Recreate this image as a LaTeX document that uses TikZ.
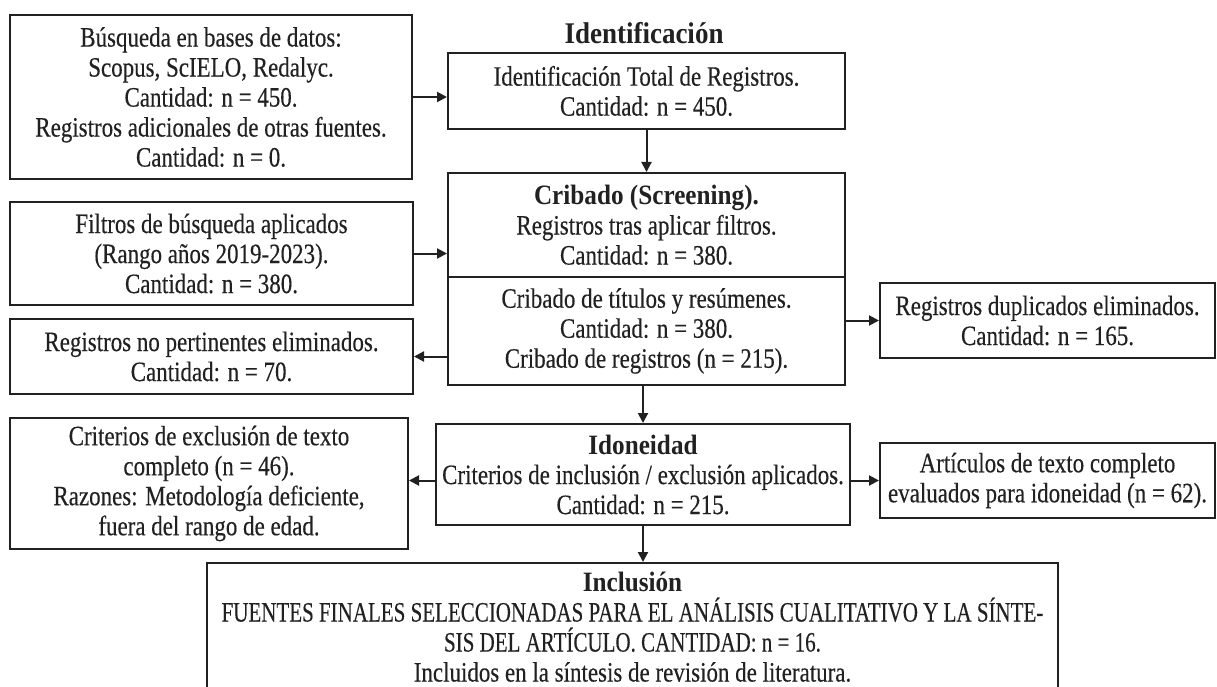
\documentclass[tikz,border=0pt]{standalone}
\usepackage{fontspec}
\setmainfont{Liberation Serif}[FakeStretch=0.82,FakeBold=0.3]
\newfontfamily\headfont{Liberation Serif}[FakeStretch=0.9]
\newfontfamily\capsfont{Liberation Serif}[FakeStretch=0.75,FakeBold=0.3]
\usetikzlibrary{arrows.meta}
\definecolor{ink}{gray}{0.13}
\newcommand\hd[1]{{\headfont\bfseries #1}}
\begin{document}
\begin{tikzpicture}[x=1pt,y=-1pt,
  box/.style={draw=ink,line width=2pt,align=center,inner sep=2pt,text=ink,font=\fontsize{28}{30}\selectfont},
  arr/.style={draw=ink,line width=2pt,-{Triangle[length=10pt,width=10pt]}}]
\useasboundingbox (0,0) rectangle (1217,687);
\node[text=ink,font=\fontsize{30}{30}\selectfont\headfont\bfseries] (ident) at (644,33) {Identificación};
\node[box,minimum width=402pt,minimum height=164pt] (busq) at (211,97) {Búsqueda en bases de datos:\\ Scopus, ScIELO, Redalyc.\\ Cantidad: n = 450.\\ Registros adicionales de otras fuentes.\\ Cantidad: n = 0.};
\node[box,minimum width=397pt,minimum height=76pt] (totreg) at (646.5,91) {Identificación Total de Registros.\\ Cantidad: n = 450.};
\node[box,minimum width=397pt,minimum height=104pt] (cribA) at (646.5,225) {\hd{Cribado (Screening).}\\ Registros tras aplicar filtros.\\ Cantidad: n = 380.};
\node[box,minimum width=397pt,minimum height=108pt] (cribB) at (646.5,331) {Cribado de títulos y resúmenes.\\ Cantidad: n = 380.\\ Cribado de registros (n = 215).};
\node[box,minimum width=403pt,minimum height=103pt] (filtros) at (211.5,253.5) {Filtros de búsqueda aplicados\\ (Rango años 2019-2023).\\ Cantidad: n = 380.};
\node[box,minimum width=403pt,minimum height=75pt] (noPert) at (211.5,356.5) {Registros no pertinentes eliminados.\\ Cantidad: n = 70.};
\node[box,minimum width=335pt,minimum height=75pt] (dupl) at (1047.5,320.5) {Registros duplicados eliminados.\\ Cantidad: n = 165.};
\node[box,minimum width=414pt,minimum height=101pt] (idon) at (643,474.5) {\hd{Idoneidad}\\ Criterios de inclusión / exclusión aplicados.\\ Cantidad: n = 215.};
\node[box,minimum width=398pt,minimum height=131pt] (exclus) at (209,483.5) {Criterios de exclusión de texto\\ completo (n = 46).\\ Razones: Metodología deficiente,\\ fuera del rango de edad.};
\node[box,minimum width=335pt,minimum height=75pt] (artic) at (1047.5,480.5) {Artículos de texto completo\\ evaluados para idoneidad (n = 62).};
\node[box,minimum width=851pt,minimum height=128pt] (incl) at (632.5,627) {\hd{Inclusión}\\ {\capsfont FUENTES FINALES SELECCIONADAS PARA EL ANÁLISIS CUALITATIVO Y LA SÍNTE-}\\ {\capsfont SIS DEL ARTÍCULO. CANTIDAD: n = 16.}\\ Incluidos en la síntesis de revisión de literatura.};
\draw[arr] (busq.east) -- (busq.east -| totreg.west);\draw[arr] (totreg) -- (cribA);
\draw[arr] (filtros.east) -- (filtros.east -| cribA.west);\draw[arr] (noPert.east -| cribB.west) -- (noPert.east);
\draw[arr] (cribB.east |- dupl.west) -- (dupl.west);\draw[arr] (cribB.south -| idon.north) -- (idon.north);
\draw[arr] (idon.west |- artic.west) -- (exclus.east |- artic.west);\draw[arr] (idon.east |- artic.west) -- (artic.west);
\draw[arr] (idon.south) -- (idon.south |- incl.north);
\end{tikzpicture}
\end{document}
